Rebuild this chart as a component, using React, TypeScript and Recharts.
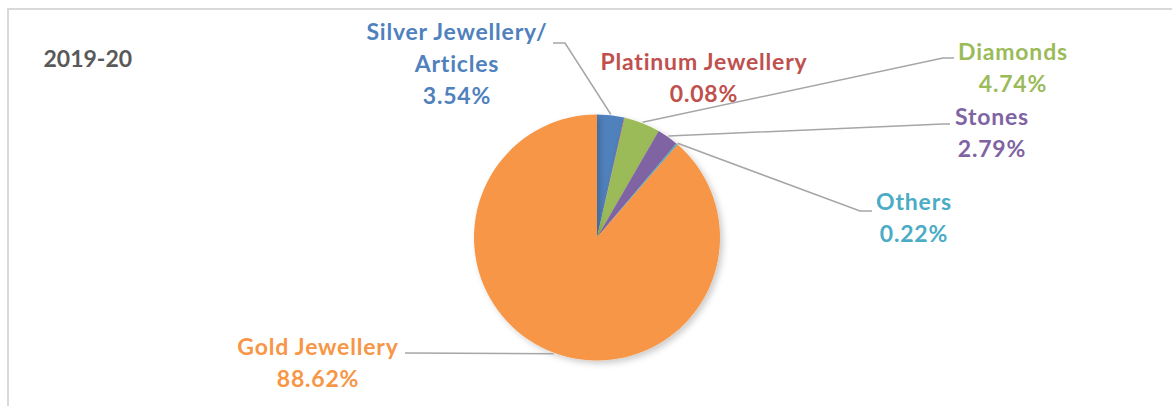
import { PieChart, Pie, Cell } from "recharts"

const categories = ["Silver Jewellery/ Articles", "Platinum Jewellery", "Diamonds", "Stones", "Others", "Gold Jewellery"]
const shares = [3.54, 0.08, 4.74, 2.79, 0.22, 88.62]
const labelLines = [["Silver Jewellery/", "Articles"], ["Platinum Jewellery"], ["Diamonds"], ["Stones"], ["Others"], ["Gold Jewellery"]]
const title = "2019-20"

const colors = ["#4f81bd", "#c0504d", "#9bbb59", "#8064a2", "#4bacc6", "#f79646"]

// label centre x, first baseline, and the bend of its leader line (null = no line)
const labelLayout = [
  { x: 457, y: 40, elbow: [565, 43], end: [553, 43] },
  { x: 704, y: 70, elbow: null, end: null },
  { x: 1013, y: 59.5, elbow: [943, 58], end: [954, 58] },
  { x: 992, y: 124.5, elbow: [943, 124], end: [950, 124] },
  { x: 914, y: 210, elbow: [860, 211], end: [872, 211] },
  { x: 318, y: 354.5, elbow: [405, 353], end: [405, 353] },
]
const LINE_GAP = 32

const data = categories.map((name, i) => ({ name, value: shares[i] }))

const FONT = "Lato, 'Open Sans', sans-serif"
const RAD = Math.PI / 180

const renderLabel = (props: any) => {
  const { cx, cy, midAngle, outerRadius, index } = props
  const pos = labelLayout[index]
  const color = colors[index]
  const lines = [...labelLines[index], `${shares[index].toFixed(2)}%`]
  const sx = cx + (outerRadius + 1) * Math.cos(-midAngle * RAD)
  const sy = cy + (outerRadius + 1) * Math.sin(-midAngle * RAD)
  return (
    <g key={`lbl-${index}`}>
      {pos.elbow && pos.end && (
        <polyline
          points={`${sx},${sy} ${pos.elbow[0]},${pos.elbow[1]} ${pos.end[0]},${pos.end[1]}`}
          fill="none"
          stroke="#a6a6a6"
          strokeWidth={1.5}
        />
      )}
      {lines.map((t, j) => (
        <text
          key={j}
          x={pos.x}
          y={pos.y + j * LINE_GAP}
          textAnchor="middle"
          fill={color}
          fontFamily={FONT}
          fontWeight="bold"
          fontSize={23}
          letterSpacing={0.8}
        >
          {t}
        </text>
      ))}
    </g>
  )
}

export default function App() {
  return (
    <div style={{ position: "absolute", left: 0, top: 0, width: 1172, height: 406, background: "#fff", overflow: "hidden" }}>
      <div
        style={{
          position: "absolute",
          left: 7,
          top: 8,
          width: 1180,
          height: 420,
          borderTop: "2px solid #d9d9d9",
          borderLeft: "2px solid #d9d9d9",
        }}
      />
      <svg style={{ position: "absolute", left: 0, top: 0 }} width={200} height={100}>
        <text x={43.5} y={67} fill="#595959" fontFamily={FONT} fontWeight="bold" fontSize={23}>
          {title}
        </text>
      </svg>
      <div style={{ position: "absolute", left: 0, top: 0 }}>
        <PieChart width={1172} height={406} margin={{ top: 0, right: 0, bottom: 0, left: 0 }}>
          <defs>
            <filter id="pieShadow" x="-20%" y="-20%" width="140%" height="140%">
              <feDropShadow dx={3} dy={3} stdDeviation={3} floodColor="#000" floodOpacity={0.2} />
            </filter>
          </defs>
          <Pie
            data={data}
            dataKey="value"
            nameKey="name"
            cx={597}
            cy={237.5}
            outerRadius={123}
            startAngle={90}
            endAngle={-270}
            stroke="none"
            isAnimationActive={false}
            labelLine={false}
            label={renderLabel}
            style={{ filter: "url(#pieShadow)" }}
          >
            {data.map((d, i) => (
              <Cell key={d.name} fill={colors[i]} />
            ))}
          </Pie>
        </PieChart>
      </div>
    </div>
  )
}
